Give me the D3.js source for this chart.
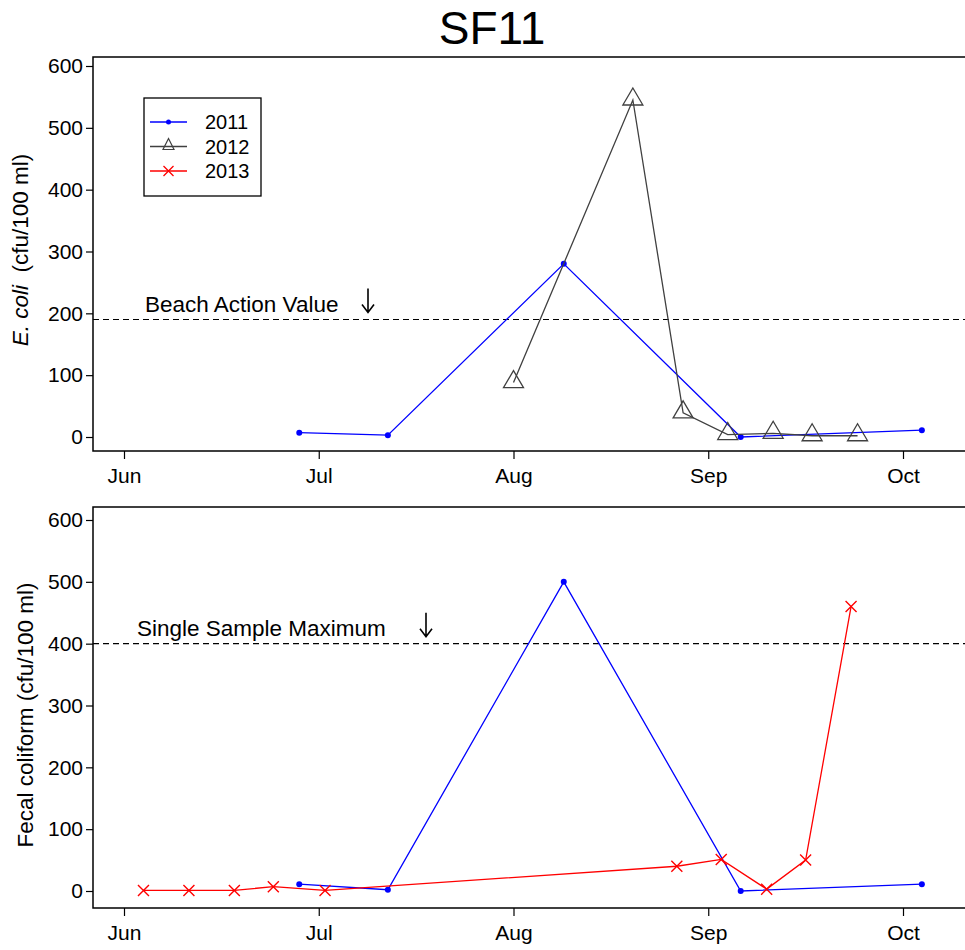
<!DOCTYPE html>
<html>
<head>
<meta charset="utf-8">
<script src="https://cdn.jsdelivr.net/npm/d3@7"></script>
<style>
  body { margin: 0; background: #fff; }
  svg { font-family: "Liberation Sans", Arial, sans-serif; }
  .tick text { font-size: 21px; fill: #000; }
  .tick line { stroke: #000; stroke-width: 1.2; }
</style>
</head>
<body>
<svg id="chart" width="965" height="950"></svg>
<script>
// month labels on the x axis (month number, label)
var monthTicks = [6, 7, 8, 9, 10]
var monthLabels = ['Jun', 'Jul', 'Aug', 'Sep', 'Oct']
var yTicks = [0, 100, 200, 300, 400, 500, 600]

// E. coli
var ecoli2011Dates = ['06-28', '07-12', '08-09', '09-06', '10-04']
var ecoli2011Values = [7, 3, 280, 0, 11]
var ecoli2012Dates = ['08-01', '08-20', '08-28', '09-04', '09-11', '09-17', '09-24']
var ecoli2012Values = [88, 545, 39, 4, 6, 2, 2]

// Fecal coliform
var fecal2011Dates = ['06-28', '07-12', '08-09', '09-06', '10-04']
var fecal2011Values = [11, 2, 500, 0, 11]
var fecal2013Dates = ['06-04', '06-11', '06-18', '06-24', '07-02', '08-27', '09-03', '09-10', '09-16', '09-23']
var fecal2013Values = [1, 1, 1, 7, 1, 40, 51, 3, 50, 460]

var beachActionValue = 190
var singleSampleMax = 400

var daysIn = {6: 30, 7: 31, 8: 31, 9: 30, 10: 31}
function monthPos(s) {
    var m = +s.slice(0, 2), d = +s.slice(3)
    return m + (d - 1) / daysIn[m]
}
function toPoints(dates, values) {
    return dates.map((d, i) => ({x: monthPos(d), y: values[i]}))
}

var svg = d3.select('#chart')
var W = 965

var xScale = d3.scaleLinear().domain([6, 10]).range([124, 903])

svg.append('text')
    .text('SF11')
    .attr('x', 492).attr('y', 44)
    .attr('text-anchor', 'middle')
    .style('font-size', '46px')

function panel(opts) {
    var g = svg.append('g')
    var yScale = d3.scaleLinear().domain([0, 600]).range([opts.y0, opts.y600])

    // frame
    g.append('path')
        .attr('d', `M${W + 5},${opts.top}H93V${opts.bottom}H${W + 5}`)
        .attr('fill', 'none').attr('stroke', '#000').attr('stroke-width', 1.5)

    var yAxis = d3.axisLeft(yScale).tickValues(yTicks).tickSize(7).tickPadding(3)
    g.append('g').attr('transform', 'translate(93,0)').call(yAxis)
        .call(a => a.select('.domain').remove())

    var xAxis = d3.axisBottom(xScale).tickValues(monthTicks)
        .tickFormat((d, i) => monthLabels[i]).tickSize(8).tickPadding(9)
    g.append('g').attr('transform', `translate(0,${opts.bottom})`).call(xAxis)
        .call(a => a.select('.domain').remove())

    // y label
    var lab = g.append('text')
        .attr('transform', `translate(${opts.labelX},${opts.labelY}) rotate(-90)`)
        .attr('text-anchor', 'middle')
        .style('font-size', '22.5px')
        .style('white-space', 'pre')
    opts.label(lab)

    // reference line
    var ry = yScale(opts.refValue)
    g.append('line')
        .attr('x1', 93).attr('x2', W)
        .attr('y1', ry).attr('y2', ry)
        .attr('stroke', '#000').attr('stroke-width', 1.2)
        .attr('stroke-dasharray', '6,4')
    g.append('text').text(opts.refText)
        .attr('x', opts.refTextX).attr('y', ry - 8)
        .style('font-size', '22.5px')
    // arrow
    g.append('path')
        .attr('d', `M${opts.arrowX},${ry - 31}V${ry - 7}M${opts.arrowX - 6},${ry - 15}L${opts.arrowX},${ry - 7}L${opts.arrowX + 6},${ry - 15}`)
        .attr('fill', 'none').attr('stroke', '#000').attr('stroke-width', 1.6)

    var line = d3.line().x(d => xScale(d.x)).y(d => yScale(d.y))

    opts.series.forEach(s => {
        var pts = toPoints(s.dates, s.values)
        g.append('path').datum(pts)
            .attr('d', line)
            .attr('fill', 'none').attr('stroke', s.color).attr('stroke-width', 1.3)
        drawMarkers(g, pts.map(p => [xScale(p.x), yScale(p.y)]), s)
    })
    return g
}

function drawMarkers(g, pts, s) {
    if (s.marker == 'dot') {
        g.selectAll(null).data(pts).enter().append('circle')
            .attr('cx', d => d[0]).attr('cy', d => d[1]).attr('r', 3)
            .attr('fill', s.color)
    } else if (s.marker == 'triangle') {
        g.selectAll(null).data(pts).enter().append('path')
            .attr('d', 'M0,-12L10,5H-10Z')
            .attr('transform', d => `translate(${d[0]},${d[1]})`)
            .attr('fill', 'none').attr('stroke', s.color).attr('stroke-width', 1.3)
    } else {
        g.selectAll(null).data(pts).enter().append('path')
            .attr('d', 'M-5.5,-5.5L5.5,5.5M-5.5,5.5L5.5,-5.5')
            .attr('transform', d => `translate(${d[0]},${d[1]})`)
            .attr('fill', 'none').attr('stroke', s.color).attr('stroke-width', 1.4)
    }
}

var blue = '#0000ff', gray = '#404040', red = '#ff0000'

panel({
    top: 57, bottom: 451, y0: 437, y600: 66,
    labelX: 28, labelY: 250,
    label: t => {
        t.append('tspan').text('E. coli').style('font-style', 'italic')
        t.append('tspan').text('  (cfu/100 ml)')
    },
    refValue: beachActionValue, refText: 'Beach Action Value', refTextX: 145, arrowX: 368,
    series: [
        {dates: ecoli2011Dates, values: ecoli2011Values, color: blue, marker: 'dot'},
        {dates: ecoli2012Dates, values: ecoli2012Values, color: gray, marker: 'triangle'}
    ]
})

panel({
    top: 507, bottom: 908, y0: 891, y600: 520,
    labelX: 33, labelY: 715,
    label: t => t.text('Fecal coliform (cfu/100 ml)'),
    refValue: singleSampleMax, refText: 'Single Sample Maximum', refTextX: 137, arrowX: 426,
    series: [
        {dates: fecal2011Dates, values: fecal2011Values, color: blue, marker: 'dot'},
        {dates: fecal2013Dates, values: fecal2013Values, color: red, marker: 'x'}
    ]
})

// legend
var legendItems = [
    {name: '2011', color: blue, marker: 'dot'},
    {name: '2012', color: gray, marker: 'triangle'},
    {name: '2013', color: red, marker: 'x'}
]
var legend = svg.append('g')
legend.append('rect')
    .attr('x', 144).attr('y', 98).attr('width', 117).attr('height', 98)
    .attr('fill', '#fff').attr('stroke', '#000').attr('stroke-width', 1.3)
legendItems.forEach((it, i) => {
    var y = 122 + i * 24.5
    legend.append('line').attr('x1', 150).attr('x2', 187).attr('y1', y).attr('y2', y)
        .attr('stroke', it.color).attr('stroke-width', 1.3)
    if (it.marker == 'triangle') {
        legend.append('path').attr('d', 'M0,-8L5.5,3H-5.5Z')
            .attr('transform', `translate(168.5,${y})`)
            .attr('fill', 'none').attr('stroke', it.color).attr('stroke-width', 1.2)
    } else if (it.marker == 'dot') {
        legend.append('circle').attr('cx', 168.5).attr('cy', y).attr('r', 2.5).attr('fill', it.color)
    } else {
        legend.append('path').attr('d', 'M-5,-5L5,5M-5,5L5,-5')
            .attr('transform', `translate(168.5,${y})`)
            .attr('stroke', it.color).attr('stroke-width', 1.3)
    }
    legend.append('text').text(it.name)
        .attr('x', 205).attr('y', y + 7)
        .style('font-size', '20px')
})
</script>
</body>
</html>
